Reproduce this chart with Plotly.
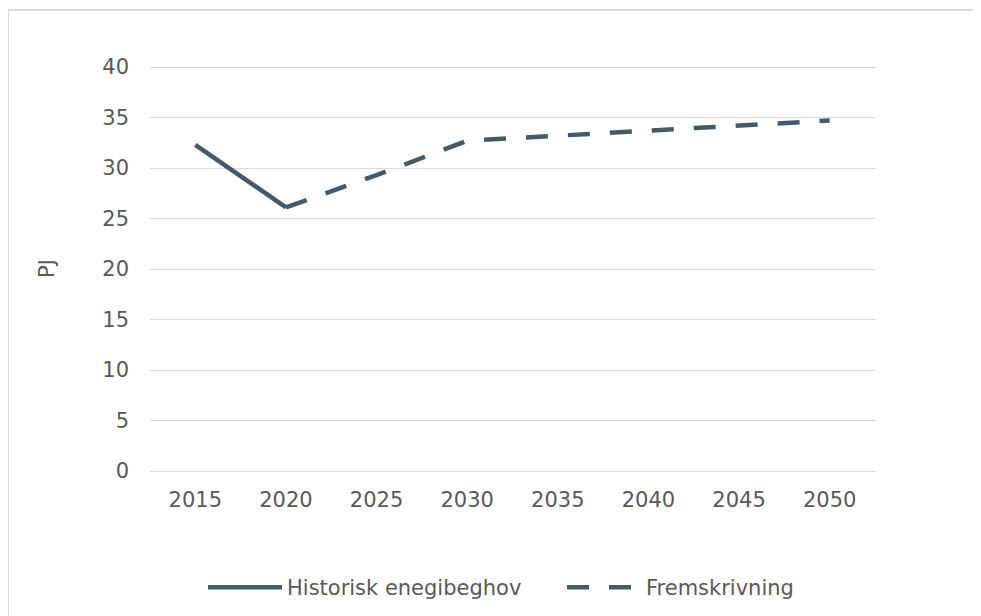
import plotly.graph_objects as go

years = ["2015", "2020", "2025", "2030", "2035", "2040", "2045", "2050"]
hist_years = ["2015", "2020"]
hist_values = [32.3, 26.1]
proj_years = ["2020", "2025", "2030", "2035", "2040", "2045", "2050"]
proj_values = [26.1, 29.3, 32.7, 33.2, 33.7, 34.2, 34.7]
y_ticks = [0, 5, 10, 15, 20, 25, 30, 35, 40]

color = "#435A6A"
font = dict(family="DejaVu Sans, Verdana, sans-serif", size=21, color="#595959")

fig = go.Figure()
fig.add_trace(go.Scatter(x=hist_years, y=hist_values, mode="lines",
                         name="Historisk enegibeghov",
                         line=dict(color=color, width=4.5)))
fig.add_trace(go.Scatter(x=proj_years, y=proj_values, mode="lines",
                         name="Fremskrivning",
                         line=dict(color=color, width=4.5, dash="22px,20px")))

# page body has an 8px margin, so the figure is sized to fit the window
W, H = 973, 608
l, r, t, b = 142, 106, 58, 145
pw, ph = W - l - r, H - t - b

# outer chart border
fig.add_shape(type="rect", xref="paper", yref="paper",
              x0=(0 - l) / pw, x1=(990 - l) / pw,
              y0=(H - b - 640) / ph, y1=(H - b - 2) / ph,
              line=dict(color="#D9D9D9", width=2), layer="below")

fig.update_layout(
    width=W, height=H,
    margin=dict(l=l, r=r, t=t, b=b, pad=0, autoexpand=False),
    plot_bgcolor="white", paper_bgcolor="white",
    font=font,
    showlegend=True,
    legend=dict(orientation="h", x=(203 - 150) / pw, xanchor="left",
                y=-0.2876, yanchor="middle",
                font=font, itemwidth=74, entrywidth=270, tracegroupgap=0),
    xaxis=dict(type="category", categoryorder="array", categoryarray=years,
               range=[-0.5, 7.5], showgrid=False, showline=False, ticks="",
               tickfont=font, ticklabelstandoff=14),
    yaxis=dict(range=[0, 40.1], tickvals=y_ticks, showgrid=True, gridcolor="#D9D9D9",
               gridwidth=1, zeroline=True, zerolinecolor="#D9D9D9", zerolinewidth=1,
               showline=False, ticks="", tickfont=font, ticklabelstandoff=20,
               title=dict(text="PJ", font=font, standoff=41)),
)

fig.write_html("out.html")
